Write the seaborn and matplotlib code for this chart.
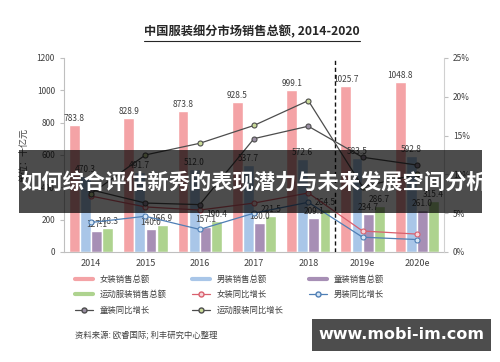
import numpy as np
import pandas as pd
import matplotlib
matplotlib.use("Agg")
import matplotlib.pyplot as plt
import seaborn as sns
from matplotlib.lines import Line2D
from matplotlib.patches import Rectangle
from matplotlib.ticker import PercentFormatter

# -------------------------------
# Data
# -------------------------------
years = ["2014", "2015", "2016", "2017", "2018", "2019e", "2020e"]
women_sales = [783.8, 828.9, 873.8, 928.5, 999.1, 1025.7, 1048.8]
men_sales = [470.3, 491.7, 512.0, 537.7, 572.6, 583.5, 592.8]
kids_sales = [127.1, 140.0, 157.1, 180.0, 209.1, 234.7, 261.0]
sport_sales = [148.3, 166.9, 190.4, 221.5, 264.5, 286.7, 315.4]

women_growth = [7.2, 5.8, 5.4, 6.3, 7.6, 2.7, 2.3]
men_growth = [3.8, 4.6, 2.9, 5.0, 6.4, 1.9, 1.6]
kids_growth = [8.0, 6.3, 6.1, 14.6, 16.2, 12.2, 11.2]
sport_growth = [7.5, 12.5, 14.0, 16.3, 19.5, 8.4, 10.0]

bar_names = ["女装销售总额", "男装销售总额", "童装销售总额", "运动服装销售总额"]
bar_colors = ["#F4A3A6", "#A9C6E8", "#A78FB5", "#AED38F"]

title = "中国服装细分市场销售总额, 2014-2020"
banner = "如何综合评估新秀的表现潜力与未来发展空间分析"
source = "资料来源: 欧睿国际; 利丰研究中心整理"
watermark = "www.mobi-im.com"

sns.set_style("white")
plt.rcParams["font.family"] = ["Noto Sans CJK SC", "DejaVu Sans"]

df = pd.DataFrame({
    "year": years * 4,
    "value": women_sales + men_sales + kids_sales + sport_sales,
    "type": sum([[n] * len(years) for n in bar_names], []),
})

fig = plt.figure(figsize=(5, 3.62), dpi=100)
ax = fig.add_axes([0.128, 0.304, 0.76, 0.536])

sns.barplot(data=df, x="year", y="value", hue="type", palette=bar_colors,
            width=0.82, gap=0.03, ax=ax, legend=False, saturation=1)
for cont in ax.containers:
    ax.bar_label(cont, fmt="%.1f", padding=1.5, fontsize=6, color="#404040")

ax.set_ylim(0, 1200)
ax.set_yticks(range(0, 1201, 200))
ax.set_xlabel("")
ax.set_ylabel("单位：十亿元", fontsize=6.5, color="#404040", labelpad=6)
ax.axvline(4.5, color="#111111", ls="--", lw=1.0, dashes=(3, 2), zorder=5)
for s in ["top", "right"]:
    ax.spines[s].set_visible(False)
ax.spines["left"].set_color("#bfbfbf")
ax.spines["bottom"].set_color("#bfbfbf")
ax.tick_params(axis="y", labelsize=6, colors="#404040", length=3, color="#bfbfbf")
ax.tick_params(axis="x", labelsize=6.5, colors="#404040", length=0, pad=5)

# -------------------------------
# Growth lines on the right axis
# -------------------------------
ax2 = ax.twinx()
line_specs = [
    ("女装同比增长", women_growth, "#D9606E", "#F6D3D8"),
    ("男装同比增长", men_growth, "#4F7FB5", "#D6E6F5"),
    ("童装同比增长", kids_growth, "#4d4d4d", "#9A8FA3"),
    ("运动服装同比增长", sport_growth, "#4d4d4d", "#C9DA98"),
]
for name, vals, lc, fc in line_specs:
    sns.pointplot(x=years, y=np.array(vals) / 100, ax=ax2, color=lc,
                  markers="o", linewidth=0.9, markersize=3.6,
                  markerfacecolor=fc, markeredgecolor=lc, markeredgewidth=0.8)
ax2.set_ylim(0, 0.25)
ax2.set_yticks(np.arange(0, 0.26, 0.05))
ax2.yaxis.set_major_formatter(PercentFormatter(1.0, decimals=0))
ax2.set_xlim(-0.5, 6.5)
ax2.set_ylabel("")
for s in ["top", "left", "bottom"]:
    ax2.spines[s].set_visible(False)
ax2.spines["right"].set_color("#d0d0d0")
ax2.tick_params(axis="y", labelsize=6, colors="#404040", length=3, color="#bfbfbf")

# -------------------------------
# Legend (row order like the original)
# -------------------------------
bar_h = [Line2D([], [], color=c, lw=3) for c in bar_colors]
line_h = [Line2D([], [], color=lc, lw=0.9, marker="o", markersize=3.6,
                 markerfacecolor=fc, markeredgecolor=lc) for _, _, lc, fc in line_specs]
handles = bar_h + line_h
labels = bar_names + [s[0] for s in line_specs]
order = [0, 3, 6, 1, 4, 7, 2, 5]
fig.legend([handles[i] for i in order], [labels[i] for i in order],
           loc="upper left", bbox_to_anchor=(0.135, 0.262), ncol=3,
           frameon=False, fontsize=6, labelcolor="#404040",
           handlelength=2.2, columnspacing=3.0, labelspacing=0.8)

fig.text(0.15, 1 - 336 / 362, source, fontsize=6, color="#404040", va="center")

# title with underline
t = fig.text(0.504, 0.912, title, fontsize=8.8, fontweight="bold",
             ha="center", va="center", color="#262626")
fig.canvas.draw()
bb = t.get_window_extent().transformed(fig.transFigure.inverted())
fig.add_artist(Line2D([bb.x0, bb.x1], [bb.y0 - 0.006, bb.y0 - 0.006],
                      color="#262626", lw=0.8, transform=fig.transFigure))

# overlay banner
fig.add_artist(Rectangle((0.038, 0.4125), 0.926, 0.173, transform=fig.transFigure,
                         facecolor="black", alpha=0.7, edgecolor="none", zorder=10))
fig.text(0.509, 0.4945, banner, fontsize=15.3, fontweight="bold", color="white",
         ha="center", va="center", zorder=11)

# watermark box
fig.add_artist(Rectangle((0.624, 0.030), 0.358, 0.089, transform=fig.transFigure,
                         facecolor="#4d4d4d", edgecolor="none", zorder=10))
fig.text(0.803, 0.075, watermark, fontsize=11.5, fontweight="bold", color="white",
         ha="center", va="center", family="DejaVu Sans", zorder=11)

fig.savefig("out.png", dpi=100)
